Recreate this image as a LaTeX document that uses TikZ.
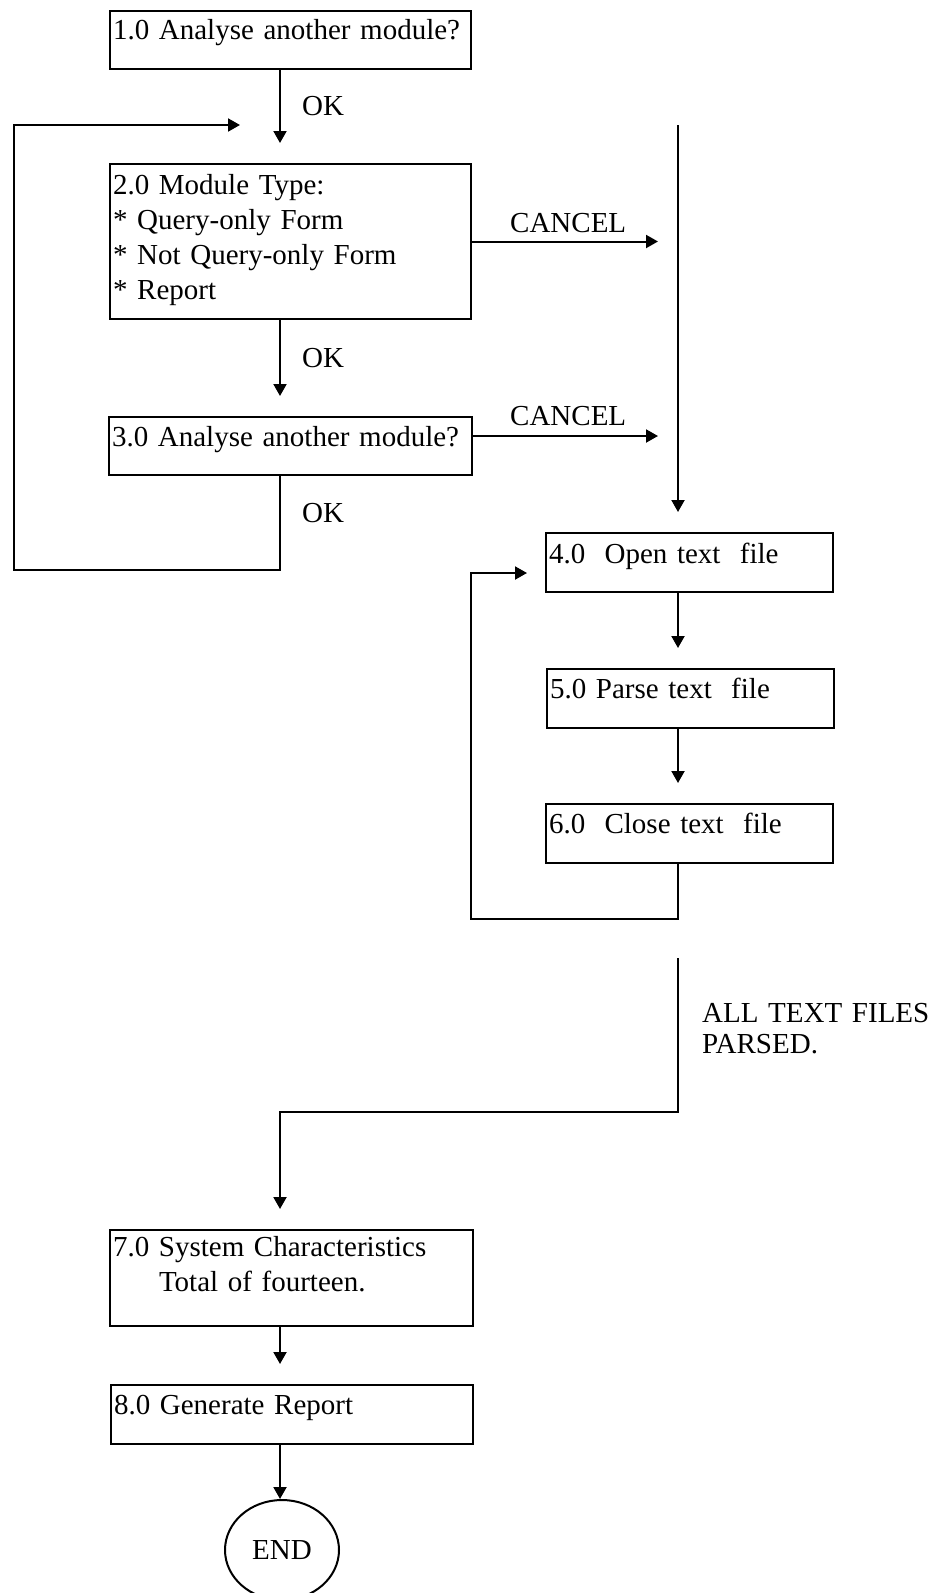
\documentclass[tikz,border=0pt]{standalone}
\usepackage{fontspec}
\setmainfont{Liberation Serif}
\usepackage{tikz}
\usetikzlibrary{arrows.meta}
\usetikzlibrary{shapes.geometric}
\newcommand{\flowfont}{\fontsize{29}{35}\selectfont}

\begin{document}
\begin{tikzpicture}[x=1pt,y=-1pt,font=\flowfont,
    procbox/.style={draw,line width=2pt,anchor=north west,inner xsep=3pt,inner ysep=0pt,align=left,text width=#1},
    flow/.style={draw,line width=2pt,-{Triangle[length=12pt,width=13pt]},shorten >=20pt},
    lbl/.style={anchor=base west,inner sep=0pt}]
  \useasboundingbox (0,0) rectangle (941,1593);
  \coordinate (colL) at (280,0);
  \coordinate (colR) at (678,0);

  % module analysis loop
  \node[procbox=355pt,text height=28pt,text depth=30pt] (b1) at (109,10) {1.0 Analyse another module?};
  \node[procbox=355pt,text height=30pt,text depth=125pt] (b2) at (109,163)
    {2.0 Module Type:\\{*} Query-only Form\\{*} Not Query-only Form\\{*} Report};
  \node[procbox=357pt,text height=29pt,text depth=29pt] (b3) at (108,416) {3.0 Analyse another module?};

  % text file loop
  \node[procbox=281pt,text height=30pt,text depth=29pt] (b4) at (545,532) {4.0\ \ Open text\ \ file};
  \node[procbox=281pt,text height=29pt,text depth=30pt] (b5) at (546,668) {5.0 Parse text\ \ file};
  \node[procbox=281pt,text height=29pt,text depth=30pt] (b6) at (545,803) {6.0\ \ Close text\ \ file};

  \node[procbox=357pt,text height=26pt,text depth=70pt] (b7) at (109,1229)
    {7.0 System Characteristics\\\hspace*{46pt}Total of fourteen.};
  \node[procbox=356pt,text height=29pt,text depth=30pt] (b8) at (110,1384) {8.0 Generate Report};
  \node[ellipse,draw,line width=2pt,minimum width=114pt,minimum height=100pt] (finish) at (282,1550) {END};

  \draw[flow] (colL |- b1.south) -- (colL |- b2.north);
  \node[lbl] (ok1) at (302,115) {OK};
  \draw[flow] (colL |- b2.south) -- (colL |- b3.north);
  \node[lbl] (ok2) at (302,367) {OK};

  \coordinate (ret1) at (14,570);
  \coordinate (ret1end) at (240,125);
  \draw[flow,shorten >=0pt] (colL |- b3.south) |- (ret1) |- (ret1end);
  \node[lbl] (ok3) at (302,522) {OK};

  \draw[flow] (b2.east) -- (b2.east -| colR);
  \node[lbl] (cancel1) at (510,232) {CANCEL};
  \draw[flow] ([yshift=10pt]b3.east) -- ([yshift=10pt]b3.east -| colR);
  \node[lbl] (cancel2) at (510,425) {CANCEL};

  \coordinate (merge) at (678,125);
  \draw[flow] (merge) -- (merge |- b4.north);
  \draw[flow] (colR |- b4.south) -- (colR |- b5.north);
  \draw[flow] (colR |- b5.south) -- (colR |- b6.north);

  \coordinate (ret2) at (471,919);
  \draw[flow,shorten >=18pt] (colR |- b6.south) |- (ret2) |- ([yshift=20pt]b4.south west);

  \coordinate (parsed) at (678,958);
  \coordinate (ret3) at (280,1112);
  \draw[flow] (parsed) |- (ret3) -- (colL |- b7.north);
  \node[lbl,text width=240pt,align=left] (done) at (702,1022) {ALL TEXT FILES\\[-4pt]PARSED.};

  \draw[flow] (colL |- b7.south) -- (colL |- b8.north);
  \draw[flow,shorten >=0pt] (colL |- b8.south) -- (colL |- finish.north);
\end{tikzpicture}
\end{document}
